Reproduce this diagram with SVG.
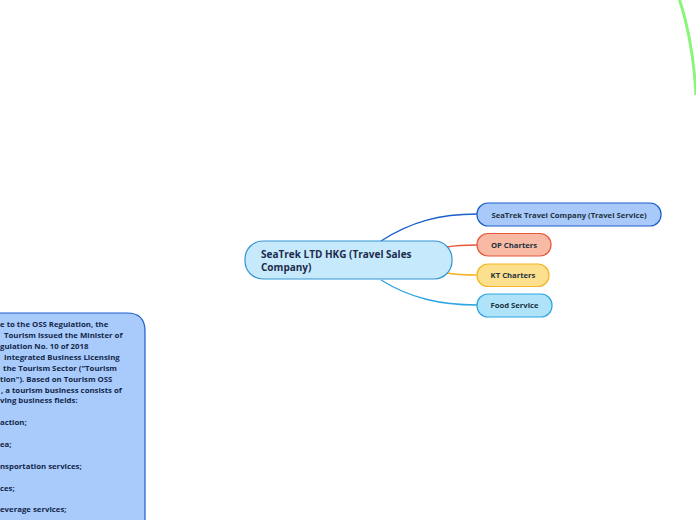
<svg xmlns="http://www.w3.org/2000/svg" width="696" height="520" viewBox="0 0 696 520">
<style>
text{font-family:"Open Sans","Noto Sans","DejaVu Sans",sans-serif;font-weight:bold}
.c{font-size:10px;fill:#1c2a4d}
.k{font-size:7.7px;fill:#1d3340;text-anchor:middle}
.l{font-size:7.8px;fill:#13284a}
.cn{fill:none;stroke-width:1.3}
</style>
<rect width="696" height="520" fill="#ffffff"/>
<path d="M679,-2 C688,25 694,60 696,95" fill="none" stroke="#8af57a" stroke-width="3"/>
<g id="connectors">
<path class="cn" d="M381,241 C410,222 440,214 477,214" stroke="#1a5fcc"/>
<path class="cn" d="M447,247 C458,245 465,245 477,245" stroke="#e8573a"/>
<path class="cn" d="M447,273 C458,275 465,275 477,275" stroke="#f5b524"/>
<path class="cn" d="M381,280 C410,298 440,305 477,305" stroke="#2ea4e2"/>
</g>
<g id="center">
<rect x="245" y="241" width="207" height="38" rx="18" fill="#c6eafb" stroke="#3293d3" stroke-width="1.2"/>
<text class="c" x="261" y="258">SeaTrek LTD HKG (Travel Sales</text>
<text class="c" x="261" y="271">Company)</text>
</g>
<g id="n1">
<rect x="477" y="203" width="184" height="23" rx="11" fill="#a9c9fb" stroke="#1a5fcc" stroke-width="1.2"/>
<text class="k" x="569" y="217.5">SeaTrek Travel Company (Travel Service)</text>
</g>
<g id="n2">
<rect x="477" y="233.5" width="74" height="22.5" rx="11" fill="#f8b9a5" stroke="#e8573a" stroke-width="1.2"/>
<text class="k" x="514" y="247.5">OP Charters</text>
</g>
<g id="n3">
<rect x="477" y="264" width="72" height="22.5" rx="11" fill="#fde08e" stroke="#f5b524" stroke-width="1.2"/>
<text class="k" x="513" y="278">KT Charters</text>
</g>
<g id="n4">
<rect x="477" y="294" width="75" height="23" rx="11" fill="#afe3f9" stroke="#2ea4e2" stroke-width="1.2"/>
<text class="k" x="514.5" y="308">Food Service</text>
</g>
<g id="left">
<path d="M-10,313 H127 Q145,313 145,331 V530 H-10 Z" fill="#a9cbfc" stroke="#1a5fcc" stroke-width="1.2"/>
<text class="l" x="0" y="327">e to the OSS Regulation, the</text>
<text class="l" x="4" y="338">Tourism issued the Minister of</text>
<text class="l" x="0" y="349">gulation No. 10 of 2018</text>
<text class="l" x="4" y="360">Integrated Business Licensing</text>
<text class="l" x="3" y="371">the Tourism Sector ("Tourism</text>
<text class="l" x="0" y="382">tion"). Based on Tourism OSS</text>
<text class="l" x="1" y="393">, a tourism business consists of</text>
<text class="l" x="0" y="403">ving business fields:</text>
<text class="l" x="0" y="425">action;</text>
<text class="l" x="0" y="447">ea;</text>
<text class="l" x="0" y="469">nsportation services;</text>
<text class="l" x="0" y="491">ces;</text>
<text class="l" x="0" y="512">everage services;</text>
</g>
</svg>
